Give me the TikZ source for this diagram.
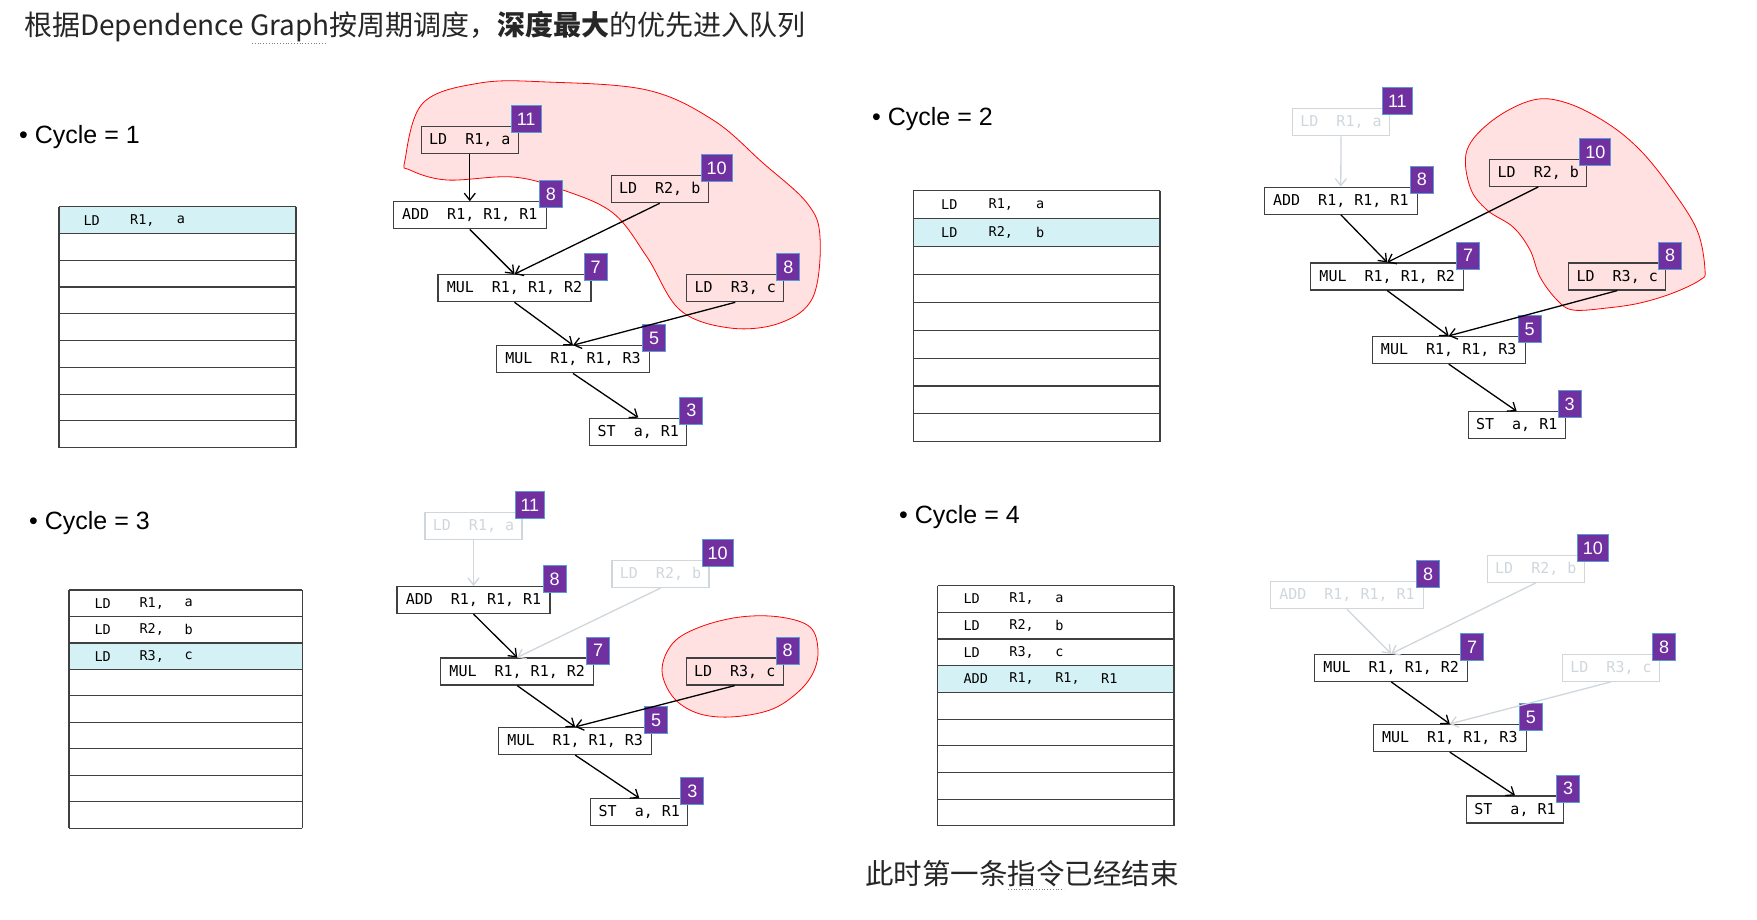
\documentclass[tikz,border=0pt]{standalone}
\usepackage{fontspec}
\setmainfont{Noto Sans CJK SC}
\newfontfamily\codefont{DejaVu Sans Mono}
\newfontfamily\cyclefont{Liberation Sans}
\usetikzlibrary{arrows.meta}
\definecolor{boxline}{RGB}{64,64,64}
\definecolor{gone}{RGB}{208,215,220}
\definecolor{badgefill}{RGB}{112,48,160}
\definecolor{badgeedge}{RGB}{91,155,213}
\definecolor{blobfill}{RGB}{255,225,225}
\definecolor{queuehi}{RGB}{212,242,245}
\definecolor{textdark}{RGB}{38,38,38}
\tikzset{
  instr/.style={draw=boxline, line width=1.2pt, inner sep=0pt, minimum height=27pt,
    font=\codefont\fontsize{15}{15}\selectfont},
  shortbox/.style={instr, minimum width=97pt},
  longbox/.style={instr, minimum width=153pt},
  faded/.style={draw=gone, text=gone},
  badge/.style={anchor=south west, fill=badgefill, draw=badgeedge, line width=0.8pt,
    text=white, inner sep=0pt, inner xsep=5.5pt, minimum width=23pt, minimum height=27pt,
    font=\cyclefont\fontsize{18}{18}\selectfont},
  dep/.style={-{Straight Barb[length=7pt,width=11pt]}, line width=1.3pt},
  depgone/.style={dep, draw=gone},
  blob/.style={draw=red, fill=blobfill, line width=0.8pt},
  qline/.style={draw=boxline, line width=1.1pt},
  qtext/.style={anchor=west, inner sep=0pt, font=\codefont\fontsize{13.5}{13.5}\selectfont},
  cyclelabel/.style={anchor=west, inner sep=0pt, font=\cyclefont\fontsize{25}{25}\selectfont},
}
\begin{document}
\begin{tikzpicture}[x=1pt,y=-1pt]
\path[use as bounding box, fill=white] (0,0) rectangle (1757,919);

% title and footnote
\node[anchor=west, inner sep=0pt, text=textdark, font=\fontsize{28}{28}\selectfont] (title) at (24,27)
  {根据Dependence Graph按周期调度，\textbf{深度最大}的优先进入队列};
\node[inner sep=0pt, text=textdark, font=\fontsize{28.5}{28.5}\selectfont] (done) at (1022,874)
  {此时第一条指令已经结束};
\draw[gray, dotted, line width=0.8pt] (252,43.5) -- (325,43.5);
\draw[gray, dotted, line width=0.8pt] (1008,889) -- (1064,889);

% cycle labels
\node[cyclelabel] (c1) at (19,137) {\textbullet\ Cycle = 1};
\node[cyclelabel] (c2) at (872,119) {\textbullet\ Cycle = 2};
\node[cyclelabel] (c3) at (29,523.5) {\textbullet\ Cycle = 3};
\node[cyclelabel] (c4) at (899,517.5) {\textbullet\ Cycle = 4};

% queue, cycle 1
\fill[queuehi] (59,206.7) rectangle (296,233.5);
\foreach \k in {0,...,9}
  \draw[qline] (59,206.7+26.78*\k) -- (296,206.7+26.78*\k);
\draw[qline] (59,206.7) -- (59,447.7) (296,206.7) -- (296,447.7);
\foreach \t [count=\c from 0] in {LD,{R1,},a}
  \node[qtext] (q1-1-\c) at (83.3+46.7*\c,220.1) {\t};

% queue, cycle 2
\fill[queuehi] (913.3,218.6) rectangle (1160,246.5);
\foreach \k in {0,...,9}
  \draw[qline] (913.3,190.7+27.9*\k) -- (1160,190.7+27.9*\k);
\draw[qline] (913.3,190.7) -- (913.3,441.8) (1160,190.7) -- (1160,441.8);
\foreach \t [count=\c from 0] in {LD,{R1,},a}
  \node[qtext] (q2-1-\c) at (941+47.5*\c,204.6) {\t};
\foreach \t [count=\c from 0] in {LD,{R2,},b}
  \node[qtext] (q2-2-\c) at (941+47.5*\c,232.5) {\t};

% queue, cycle 3
\fill[queuehi] (69,643) rectangle (302.3,669.4);
\foreach \k in {0,...,9}
  \draw[qline] (69,590+26.48*\k) -- (302.3,590+26.48*\k);
\draw[qline] (69,590) -- (69,828.3) (302.3,590) -- (302.3,828.3);
\foreach \t [count=\c from 0] in {LD,{R1,},a}
  \node[qtext] (q3-1-\c) at (94.3+45*\c,603.2) {\t};
\foreach \t [count=\c from 0] in {LD,{R2,},b}
  \node[qtext] (q3-2-\c) at (94.3+45*\c,629.7) {\t};
\foreach \t [count=\c from 0] in {LD,{R3,},c}
  \node[qtext] (q3-3-\c) at (94.3+45*\c,656.2) {\t};

% queue, cycle 4
\fill[queuehi] (937.7,665.7) rectangle (1174,692.4);
\foreach \k in {0,...,9}
  \draw[qline] (937.7,585.7+26.67*\k) -- (1174,585.7+26.67*\k);
\draw[qline] (937.7,585.7) -- (937.7,825.7) (1174,585.7) -- (1174,825.7);
\foreach \t [count=\c from 0] in {LD,{R1,},a}
  \node[qtext] (q4-1-\c) at (963.3+45.9*\c,599) {\t};
\foreach \t [count=\c from 0] in {LD,{R2,},b}
  \node[qtext] (q4-2-\c) at (963.3+45.9*\c,625.7) {\t};
\foreach \t [count=\c from 0] in {LD,{R3,},c}
  \node[qtext] (q4-3-\c) at (963.3+45.9*\c,652.4) {\t};
\foreach \t [count=\c from 0] in {ADD,{R1,},{R1,},R1}
  \node[qtext] (q4-4-\c) at (963.3+45.9*\c,679) {\t};

% graph, cycle 1
\draw[blob] plot[smooth cycle, tension=0.6] coordinates {(405,160) (423,103) (480,83) (547,82)
  (647,90) (713,120) (763,163) (807,203) (820,237) (813,297) (780,323) (730,328) (680,310)
  (647,257) (613,213) (563,190) (513,177) (447,180) (410,170)};
\node[shortbox] (g1lda) at (469.8,140.3) {LD\ \ R1, a};
\node[longbox] (g1add) at (469.8,215.3) {ADD\ \ R1, R1, R1};
\node[shortbox] (g1ldb) at (659.7,189.2) {LD\ \ R2, b};
\node[longbox] (g1mulb) at (514.5,288.2) {MUL\ \ R1, R1, R2};
\node[shortbox] (g1ldc) at (735.3,288.2) {LD\ \ R3, c};
\node[longbox] (g1mulc) at (573,359.3) {MUL\ \ R1, R1, R3};
\node[shortbox] (g1st) at (638.3,431.7) {ST\ \ a, R1};
\node[badge] (g1lda-d) at ([xshift=-8pt,yshift=-7pt]g1lda.north east) {11};
\node[badge] (g1add-d) at ([xshift=-8pt,yshift=-7pt]g1add.north east) {8};
\node[badge] (g1ldb-d) at ([xshift=-8pt,yshift=-7pt]g1ldb.north east) {10};
\node[badge] (g1mulb-d) at ([xshift=-8pt,yshift=-7pt]g1mulb.north east) {7};
\node[badge] (g1ldc-d) at ([xshift=-8pt,yshift=-7pt]g1ldc.north east) {8};
\node[badge] (g1mulc-d) at ([xshift=-8pt,yshift=-7pt]g1mulc.north east) {5};
\node[badge] (g1st-d) at ([xshift=-8pt,yshift=-7pt]g1st.north east) {3};
\draw[dep] (g1lda.south) -- (g1add.north);
\draw[dep] (g1add.south) -- (g1mulb.north);
\draw[dep] (g1ldb.south) -- (g1mulb.north);
\draw[dep] (g1mulb.south) -- (g1mulc.north);
\draw[dep] (g1ldc.south) -- (g1mulc.north);
\draw[dep] (g1mulc.south) -- (g1st.north);

% graph, cycle 2
\draw[blob] plot[smooth cycle, tension=0.6] coordinates {(1467,150) (1493,120) (1533,100)
  (1567,103) (1607,123) (1640,150) (1670,187) (1697,230) (1705,270) (1700,280) (1673,293)
  (1640,303) (1607,308) (1573,310) (1557,300) (1540,277) (1530,250) (1513,227) (1487,210)
  (1470,187)};
\node[shortbox, faded] (g2lda) at (1341,122.3) {LD\ \ R1, a};
\node[longbox] (g2add) at (1340.8,200.7) {ADD\ \ R1, R1, R1};
\node[shortbox] (g2ldb) at (1538.3,172.8) {LD\ \ R2, b};
\node[longbox] (g2mulb) at (1387.2,276.5) {MUL\ \ R1, R1, R2};
\node[shortbox] (g2ldc) at (1617.2,276.5) {LD\ \ R3, c};
\node[longbox] (g2mulc) at (1448.7,350) {MUL\ \ R1, R1, R3};
\node[shortbox] (g2st) at (1516.7,425.3) {ST\ \ a, R1};
\node[badge] (g2lda-d) at ([xshift=-8pt,yshift=-7pt]g2lda.north east) {11};
\node[badge] (g2add-d) at ([xshift=-8pt,yshift=-7pt]g2add.north east) {8};
\node[badge] (g2ldb-d) at ([xshift=-8pt,yshift=-7pt]g2ldb.north east) {10};
\node[badge] (g2mulb-d) at ([xshift=-8pt,yshift=-7pt]g2mulb.north east) {7};
\node[badge] (g2ldc-d) at ([xshift=-8pt,yshift=-7pt]g2ldc.north east) {8};
\node[badge] (g2mulc-d) at ([xshift=-8pt,yshift=-7pt]g2mulc.north east) {5};
\node[badge] (g2st-d) at ([xshift=-8pt,yshift=-7pt]g2st.north east) {3};
\draw[depgone] (g2lda.south) -- (g2add.north);
\draw[dep] (g2add.south) -- (g2mulb.north);
\draw[dep] (g2ldb.south) -- (g2mulb.north);
\draw[dep] (g2mulb.south) -- (g2mulc.north);
\draw[dep] (g2ldc.south) -- (g2mulc.north);
\draw[dep] (g2mulc.south) -- (g2st.north);

% graph, cycle 3
\draw[blob] plot[smooth cycle, tension=0.6] coordinates {(662,670) (673,643) (700,627)
  (740,617) (780,617) (810,627) (818,650) (813,673) (797,693) (770,710) (730,717) (697,713)
  (673,697)};
\node[shortbox, faded] (g3lda) at (473.5,526) {LD\ \ R1, a};
\node[longbox] (g3add) at (473.5,600) {ADD\ \ R1, R1, R1};
\node[shortbox, faded] (g3ldb) at (660.5,574) {LD\ \ R2, b};
\node[longbox] (g3mulb) at (517.2,671.5) {MUL\ \ R1, R1, R2};
\node[shortbox] (g3ldc) at (734.7,671.5) {LD\ \ R3, c};
\node[longbox] (g3mulc) at (575.2,741) {MUL\ \ R1, R1, R3};
\node[shortbox] (g3st) at (639.3,812.2) {ST\ \ a, R1};
\node[badge] (g3lda-d) at ([xshift=-8pt,yshift=-7pt]g3lda.north east) {11};
\node[badge] (g3add-d) at ([xshift=-8pt,yshift=-7pt]g3add.north east) {8};
\node[badge] (g3ldb-d) at ([xshift=-8pt,yshift=-7pt]g3ldb.north east) {10};
\node[badge] (g3mulb-d) at ([xshift=-8pt,yshift=-7pt]g3mulb.north east) {7};
\node[badge] (g3ldc-d) at ([xshift=-8pt,yshift=-7pt]g3ldc.north east) {8};
\node[badge] (g3mulc-d) at ([xshift=-8pt,yshift=-7pt]g3mulc.north east) {5};
\node[badge] (g3st-d) at ([xshift=-8pt,yshift=-7pt]g3st.north east) {3};
\draw[depgone] (g3lda.south) -- (g3add.north);
\draw[dep] (g3add.south) -- (g3mulb.north);
\draw[depgone] (g3ldb.south) -- (g3mulb.north);
\draw[dep] (g3mulb.south) -- (g3mulc.north);
\draw[dep] (g3ldc.south) -- (g3mulc.north);
\draw[dep] (g3mulc.south) -- (g3st.north);

% graph, cycle 4
\node[longbox, faded] (g4add) at (1347,595.2) {ADD\ \ R1, R1, R1};
\node[shortbox, faded] (g4ldb) at (1535.8,568.8) {LD\ \ R2, b};
\node[longbox] (g4mulb) at (1391.2,667.8) {MUL\ \ R1, R1, R2};
\node[shortbox, faded] (g4ldc) at (1611,667.8) {LD\ \ R3, c};
\node[longbox] (g4mulc) at (1449.8,738) {MUL\ \ R1, R1, R3};
\node[shortbox] (g4st) at (1515,809.5) {ST\ \ a, R1};
\node[badge] (g4add-d) at ([xshift=-8pt,yshift=-7pt]g4add.north east) {8};
\node[badge] (g4ldb-d) at ([xshift=-8pt,yshift=-7pt]g4ldb.north east) {10};
\node[badge] (g4mulb-d) at ([xshift=-8pt,yshift=-7pt]g4mulb.north east) {7};
\node[badge] (g4ldc-d) at ([xshift=-8pt,yshift=-7pt]g4ldc.north east) {8};
\node[badge] (g4mulc-d) at ([xshift=-8pt,yshift=-7pt]g4mulc.north east) {5};
\node[badge] (g4st-d) at ([xshift=-8pt,yshift=-7pt]g4st.north east) {3};
\draw[depgone] (g4add.south) -- (g4mulb.north);
\draw[depgone] (g4ldb.south) -- (g4mulb.north);
\draw[dep] (g4mulb.south) -- (g4mulc.north);
\draw[depgone] (g4ldc.south) -- (g4mulc.north);
\draw[dep] (g4mulc.south) -- (g4st.north);
\end{tikzpicture}
\end{document}
